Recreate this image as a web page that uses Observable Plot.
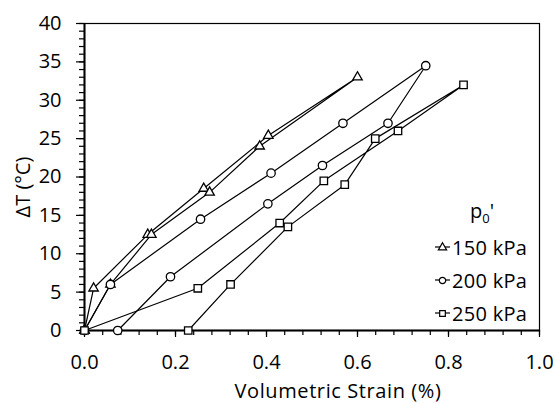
<!DOCTYPE html>
<html>
<head>
<meta charset="utf-8">
<script src="https://cdn.jsdelivr.net/npm/d3@7"></script>
<script src="https://cdn.jsdelivr.net/npm/@observablehq/plot@0.6"></script>
<style>
  body { margin: 0; background: #fff; }
  #wrap { position: relative; width: 556px; height: 403px; overflow: hidden; font-family: "Open Sans", sans-serif; color: #000; }
  .t { position: absolute; white-space: nowrap; font-size: 20px; line-height: 1; }
  .leg { position: absolute; left: 434px; display: flex; align-items: center; font-size: 20px; letter-spacing: 0.3px; }
</style>
</head>
<body>
<div id="wrap"></div>
<script>
// Data
const series = ["150 kPa", "200 kPa", "250 kPa"];
const symbols = ["triangle", "circle", "square"];
const strain150 = [0, 0.020, 0.139, 0.262, 0.404, 0.600, 0.385, 0.275, 0.147, 0.057, 0];
const temp150   = [0, 5.5, 12.5, 18.5, 25.4, 33.0, 24.0, 18.0, 12.5, 6.0, 0];
const strain200 = [0, 0.057, 0.255, 0.410, 0.568, 0.750, 0.667, 0.523, 0.403, 0.189, 0.073];
const temp200   = [0, 6.0, 14.5, 20.5, 27.0, 34.5, 27.0, 21.5, 16.5, 7.0, 0];
const strain250 = [0, 0.249, 0.429, 0.526, 0.689, 0.833, 0.639, 0.572, 0.447, 0.321, 0.228];
const temp250   = [0, 5.5, 14.0, 19.5, 26.0, 32.0, 25.0, 19.0, 13.5, 6.0, 0];
const xTicks = [0, 0.2, 0.4, 0.6, 0.8, 1.0];
const yTicks = [0, 5, 10, 15, 20, 25, 30, 35, 40];
const xTitle = "Volumetric Strain (%)";
const yTitle = "ΔT (°C)";

const strains = [strain150, strain200, strain250];
const temps = [temp150, temp200, temp250];
const data = series.map((s, k) => strains[k].map((x, i) => ({series: s, i, x, y: temps[k][i]})));

const marks = [
  Plot.frame({stroke: "#000", strokeWidth: 1.2}),
  Plot.axisY({ticks: d3.range(0, 41, 1), tickSize: 5, text: null, label: null, strokeWidth: 1.2}),
  Plot.axisY({ticks: yTicks, tickSize: 8, tickPadding: 15, tickFormat: d => String(d), label: null, strokeWidth: 1.2, fontSize: 20}),
  Plot.axisX({ticks: d3.range(0, 1.0001, 0.04), tickSize: 5, text: null, label: null, strokeWidth: 1.2}),
  Plot.axisX({ticks: xTicks, tickSize: 7, tickPadding: 17, tickFormat: d3.format(".1f"), label: null, strokeWidth: 1.2, fontSize: 20}),
  Plot.ruleX([0], {stroke: "#000", strokeWidth: 2}),
  Plot.ruleY([0], {stroke: "#000", strokeWidth: 2})
];
data.forEach((d, k) => {
  marks.push(Plot.line(d, {x: "x", y: "y", stroke: "#000", strokeWidth: 1.2}));
  marks.push(Plot.dot(d, {x: "x", y: "y", symbol: () => symbols[k], r: k === 0 ? 3.5 : k === 1 ? 4.2 : 4.2, fill: "#fff", stroke: "#000", strokeWidth: 1.3}));
});

const chart = Plot.plot({
  width: 556,
  height: 403,
  marginLeft: 84,
  marginRight: 17,
  marginTop: 23,
  marginBottom: 73,
  x: {domain: [0, 1]},
  y: {domain: [0, 40]},
  style: {fontFamily: "'Open Sans', sans-serif", fontSize: "20px", color: "#000", background: "#fff"},
  marks
});

const wrap = document.getElementById("wrap");
wrap.appendChild(chart);

// Axis titles
const xt = document.createElement("div");
xt.className = "t";
xt.textContent = xTitle;
xt.style.left = "338px"; xt.style.top = "381px";
xt.style.letterSpacing = "0.6px";
xt.style.transform = "translateX(-50%)";
wrap.appendChild(xt);

const yt = document.createElement("div");
yt.className = "t";
yt.textContent = yTitle;
yt.style.left = "23px"; yt.style.top = "187px";
yt.style.transform = "translate(-50%, -50%) rotate(-90deg)";
wrap.appendChild(yt);

// Legend
const lt = document.createElement("div");
lt.className = "t";
lt.innerHTML = "p<sub style='font-size:13px'>0</sub>'";
lt.style.left = "482px"; lt.style.top = "213px";
lt.style.transform = "translate(-50%, -50%)";
wrap.appendChild(lt);

const legY = [247, 280, 313];
series.forEach((s, k) => {
  const row = document.createElement("div");
  row.className = "leg";
  row.style.top = (legY[k] - 12) + "px";
  row.style.height = "24px";
  const ns = "http://www.w3.org/2000/svg";
  const svg = document.createElementNS(ns, "svg");
  svg.setAttribute("width", "17"); svg.setAttribute("height", "12");
  const ln = document.createElementNS(ns, "line");
  ln.setAttribute("x1", "1"); ln.setAttribute("x2", "16"); ln.setAttribute("y1", "6"); ln.setAttribute("y2", "6");
  ln.setAttribute("stroke", "#000"); ln.setAttribute("stroke-width", "1.2");
  svg.appendChild(ln);
  const p = document.createElementNS(ns, "path");
  const sym = {triangle: d3.symbolTriangle, circle: d3.symbolCircle, square: d3.symbolSquare}[symbols[k]];
  p.setAttribute("d", d3.symbol(sym, k === 0 ? 30 : 32)());
  p.setAttribute("transform", "translate(8.5,6.5)");
  p.setAttribute("fill", "#fff"); p.setAttribute("stroke", "#000"); p.setAttribute("stroke-width", "1.2");
  svg.appendChild(p);
  row.appendChild(svg);
  const tx = document.createElement("span");
  tx.textContent = s;
  tx.style.marginLeft = "1px";
  row.appendChild(tx);
  wrap.appendChild(row);
});
</script>
</body>
</html>
